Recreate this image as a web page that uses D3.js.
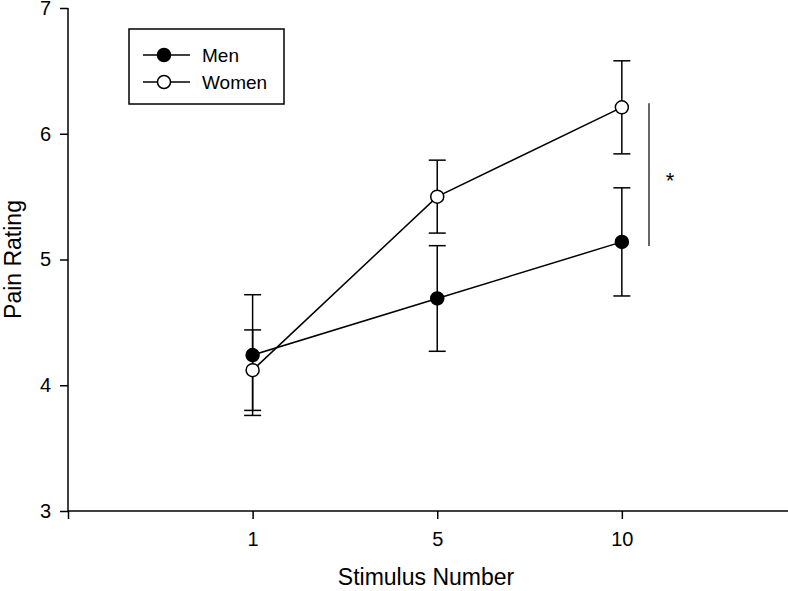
<!DOCTYPE html>
<html><head><meta charset="utf-8">
<script src="https://cdn.jsdelivr.net/npm/d3@7"></script>
<style>body{margin:0;background:#fff;} svg{display:block;} text{font-family:"Liberation Sans",Arial,sans-serif;fill:#000;}</style>
</head><body>
<svg id="c" width="788" height="591"></svg>
<script>
const categories = ["1", "5", "10"];
const menMean = [4.24, 4.69, 5.14];
const menErr = [0.48, 0.42, 0.43];
const womenMean = [4.12, 5.50, 6.21];
const womenErr = [0.32, 0.29, 0.37];
const yTicks = [3, 4, 5, 6, 7];

const svg = d3.select("#c");
const mLeft = 68, mRight = 788, mTop = 8, mBottom = 511;
// categories placed at positions 1..3, axis starts at 0
const x = d3.scaleLinear().domain([0, 3.9]).range([mLeft, mRight]);
const y = d3.scaleLinear().domain([3, 7]).range([mBottom, mTop]);

const xAxis = d3.axisBottom(x).tickValues([0, 1, 2, 3]).tickSize(8).tickPadding(13)
  .tickFormat(d => d === 0 ? "" : categories[d - 1]);
const gx = svg.append("g").attr("transform", `translate(0,${mBottom})`).call(xAxis);
gx.select(".domain").attr("d", `M${mLeft},0H${mRight}`);
const yAxis = d3.axisLeft(y).tickValues(yTicks).tickSize(8).tickPadding(9).tickFormat(d3.format("d"));
const gy = svg.append("g").attr("transform", `translate(${mLeft},0)`).call(yAxis);
gy.select(".domain").attr("d", `M0,${mTop}V${mBottom}`);
svg.selectAll(".domain, .tick line").attr("stroke", "#000").attr("stroke-width", 1.5);
svg.selectAll(".tick text").style("font-size", "20px").attr("fill", "#000");

svg.append("text").attr("x", 426).attr("y", 585).attr("text-anchor", "middle")
  .style("font-size", "23px").text("Stimulus Number");
svg.append("text").attr("transform", `translate(21,${(mTop + mBottom) / 2}) rotate(-90)`)
  .attr("text-anchor", "middle").style("font-size", "23px").text("Pain Rating");

const series = [
  {name: "Men", mean: menMean, err: menErr, fill: "#000"},
  {name: "Women", mean: womenMean, err: womenErr, fill: "#fff"}
];
const capHalf = 8.5, r = 6.5;
series.forEach(s => {
  const g = svg.append("g");
  s.mean.forEach((m, i) => {
    const cx = x(i + 1);
    g.append("line").attr("x1", cx).attr("x2", cx).attr("y1", y(m - s.err[i])).attr("y2", y(m + s.err[i]))
      .attr("stroke", "#000").attr("stroke-width", 1.5);
    [m - s.err[i], m + s.err[i]].forEach(v => {
      g.append("line").attr("x1", cx - capHalf).attr("x2", cx + capHalf).attr("y1", y(v)).attr("y2", y(v))
        .attr("stroke", "#000").attr("stroke-width", 1.5);
    });
  });
});
series.forEach(s => {
  svg.append("path").datum(s.mean)
    .attr("d", d3.line().x((d, i) => x(i + 1)).y(d => y(d)))
    .attr("fill", "none").attr("stroke", "#000").attr("stroke-width", 1.5);
});
series.forEach(s => {
  svg.append("g").selectAll("circle").data(s.mean).join("circle")
    .attr("cx", (d, i) => x(i + 1)).attr("cy", d => y(d)).attr("r", r)
    .attr("fill", s.fill).attr("stroke", "#000").attr("stroke-width", 1.5);
});

// significance bracket
svg.append("line").attr("x1", 649).attr("x2", 649).attr("y1", y(womenMean[2]) - 4).attr("y2", y(menMean[2]) + 4)
  .attr("stroke", "#000").attr("stroke-width", 1.2);
svg.append("text").attr("x", 670).attr("y", 188).attr("text-anchor", "middle").style("font-size", "22px").text("*");

// legend
const lg = svg.append("g");
lg.append("rect").attr("x", 129).attr("y", 29).attr("width", 155).attr("height", 75)
  .attr("fill", "#fff").attr("stroke", "#000").attr("stroke-width", 1.5);
series.forEach((s, i) => {
  const ly = 55 + i * 27;
  lg.append("line").attr("x1", 143).attr("x2", 190).attr("y1", ly).attr("y2", ly).attr("stroke", "#000").attr("stroke-width", 1.5);
  lg.append("circle").attr("cx", 164).attr("cy", ly).attr("r", r).attr("fill", s.fill).attr("stroke", "#000").attr("stroke-width", 1.5);
  lg.append("text").attr("x", 202).attr("y", ly + 7).style("font-size", "19px").text(s.name);
});
</script>
</body></html>
